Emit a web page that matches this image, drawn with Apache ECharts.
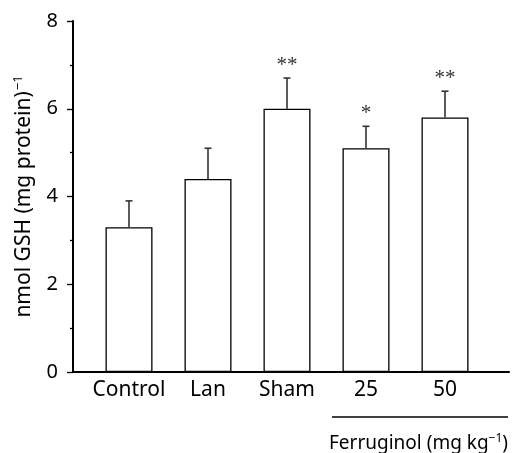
<!DOCTYPE html>
<html>
<head>
<meta charset="utf-8">
<script src="https://cdn.jsdelivr.net/npm/echarts@6/dist/echarts.min.js"></script>
<style>
  html, body { margin: 0; padding: 0; background: #fff; }
  #main { width: 512px; height: 453px; }
</style>
</head>
<body>
<div id="main"></div>
<script>
var categories = ['Control', 'Lan', 'Sham', '25', '50'];
var means = [3.3, 4.4, 6.0, 5.1, 5.8];
var errors = [0.6, 0.7, 0.7, 0.5, 0.6];
var stars = ['', '', '**', '*', '**'];
var yMin = 0, yMax = 8, yStep = 2;

var font = '"Noto Sans", "Open Sans", sans-serif';
var myChart = echarts.init(document.getElementById('main'));

var errData = categories.map(function (c, i) {
    return [i, means[i], errors[i], stars[i]];
});

var option = {
    animation: false,
    backgroundColor: '#fff',
    grid: [{
        // bars
        left: 89.5, right: 27.5, top: 21, bottom: 81
    }, {
        // axes frame
        left: 73, right: 3, top: 21, bottom: 81
    }],
    xAxis: [{
        type: 'category',
        gridIndex: 0,
        data: categories,
        axisLine: { show: false },
        axisTick: { show: false },
        axisLabel: {
            interval: 0,
            color: '#000',
            fontFamily: font,
            fontSize: 21,
            margin: 8
        }
    }, {
        type: 'value',
        gridIndex: 1,
        min: 0,
        max: 1,
        axisLine: { show: true, onZero: false, lineStyle: { color: '#000', width: 2 } },
        axisTick: { show: false },
        axisLabel: { show: false },
        splitLine: { show: false }
    }],
    yAxis: [{
        type: 'value',
        gridIndex: 0,
        min: yMin,
        max: yMax,
        show: false
    }, {
        type: 'value',
        gridIndex: 1,
        min: yMin,
        max: yMax,
        interval: yStep,
        name: 'nmol GSH (mg protein){sup|−1}',
        nameLocation: 'middle',
        nameGap: 37,
        nameTextStyle: {
            color: '#000',
            fontFamily: font,
            fontSize: 21,
            rich: {
                sup: { fontFamily: font, fontSize: 13, color: '#000', verticalAlign: 'top', padding: [0, 0, 11, 1] }
            }
        },
        axisLine: { show: true, onZero: false, lineStyle: { color: '#000', width: 2 } },
        axisTick: { show: true, length: 6, lineStyle: { color: '#000', width: 1.3 } },
        minorTick: { show: true, splitNumber: 2, length: 3, lineStyle: { color: '#000', width: 1.3 } },
        axisLabel: {
            color: '#000',
            fontFamily: font,
            fontSize: 20,
            margin: 15
        },
        splitLine: { show: false },
        minorSplitLine: { show: false }
    }],
    series: [{
        type: 'bar',
        xAxisIndex: 0,
        yAxisIndex: 0,
        data: means,
        barWidth: 47,
        itemStyle: { color: '#fff', borderColor: '#000', borderWidth: 1.3 },
        z: 2
    }, {
        type: 'custom',
        xAxisIndex: 0,
        yAxisIndex: 0,
        data: errData,
        z: 3,
        renderItem: function (params, api) {
            var i = api.value(0);
            var base = api.coord([i, api.value(1)]);
            var top = api.coord([i, api.value(1) + api.value(2)]);
            var s = stars[params.dataIndex];
            var style = { stroke: '#333', lineWidth: 1.6 };
            return {
                type: 'group',
                children: [{
                    type: 'line',
                    shape: { x1: base[0], y1: base[1], x2: top[0], y2: top[1] },
                    style: style
                }, {
                    type: 'line',
                    shape: { x1: top[0] - 3.5, y1: top[1], x2: top[0] + 3.5, y2: top[1] },
                    style: style
                }, {
                    type: 'text',
                    style: {
                        text: s,
                        x: top[0],
                        y: top[1] - 13,
                        align: 'center',
                        verticalAlign: 'middle',
                        fill: '#333',
                        fontFamily: '"Liberation Serif", serif',
                        fontSize: 21
                    }
                }]
            };
        }
    }],
    graphic: [{
        type: 'line',
        shape: { x1: 332, y1: 417, x2: 508, y2: 417 },
        style: { stroke: '#000', lineWidth: 1.3 }
    }, {
        type: 'text',
        left: 329,
        top: 433,
        style: {
            text: 'Ferruginol (mg kg{sup|−1})',
            fill: '#000',
            fontFamily: font,
            fontSize: 19,
            rich: {
                sup: { fontFamily: font, fontSize: 12, fill: '#000', verticalAlign: 'top', padding: [0, 0, 10, 0] }
            }
        }
    }]
};

myChart.setOption(option);
</script>
</body>
</html>
